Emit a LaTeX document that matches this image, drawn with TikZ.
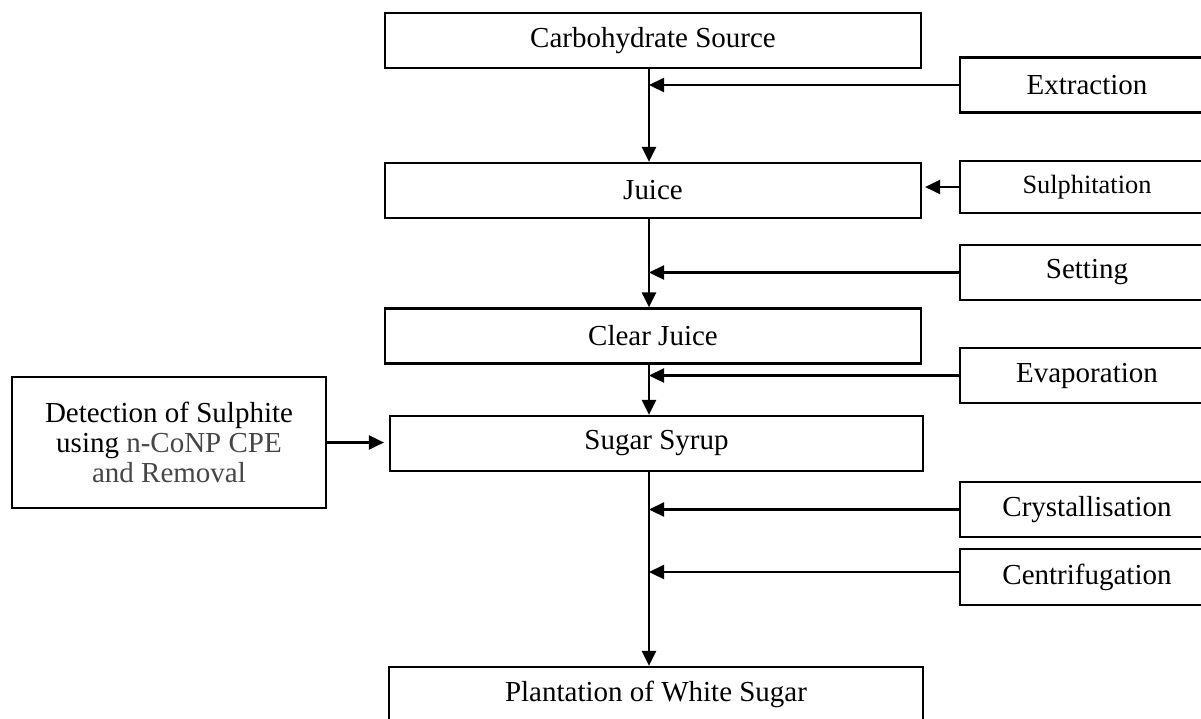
\documentclass[tikz,border=0pt]{standalone}
\usepackage{fontspec}
\setmainfont{Liberation Serif}
\usepackage{xcolor}
\usetikzlibrary{shapes, arrows, calc, positioning}
\usetikzlibrary{arrows.meta}

\definecolor{greytext}{RGB}{70,70,70}
\newcommand{\flowfont}{\fontsize{16.5}{20}\selectfont}

\begin{document}
\begin{tikzpicture}[
  x=0.02cm, y=-0.02cm,
  every node/.style={font=\flowfont, align=center},
  stage/.style={rectangle, draw, line width=1.3pt, inner sep=0pt, minimum width=10.72cm, minimum height=1.1cm},
  process/.style={rectangle, draw, line width=1.3pt, inner sep=0pt, minimum width=5.08cm, minimum height=1.1cm},
  flow/.style={draw, line width=1.3pt, -{Triangle[length=3mm, width=2.8mm]}}
]
\useasboundingbox (0,0) rectangle (1201,718);

% main stages
\node[stage] (src) at (653,40.5) {Carbohydrate Source};
\node[stage] (juice) at (653,190.5) {Juice};
\node[stage] (clear) at (653,336) {Clear Juice};
\node[stage, minimum width=10.66cm] (syrup) at (656.5,443.5) {Sugar Syrup};
\node[stage, minimum width=10.68cm] (white) at (656,694.5) {Plantation of White Sugar};

% side processes
\node[process] (extr) at (1087,85) {Extraction};
\node[process, minimum height=1.04cm, font=\fontsize{15}{18}\selectfont] (sulph) at (1087,187) {Sulphitation};
\node[process] (sett) at (1087,272.5) {Setting};
\node[process] (evap) at (1087,375.5) {Evaporation};
\node[process] (cryst) at (1087,509.5) {Crystallisation};
\node[process, minimum height=1.12cm] (centr) at (1087,577) {Centrifugation};

\node[rectangle, draw, line width=1.3pt, minimum width=6.28cm, minimum height=2.62cm,
  font=\fontsize{16.5}{17}\selectfont] (detect) at (169,442.5)
  {Detection of Sulphite\\ using {\color{greytext}n-CoNP CPE}\\ {\color{greytext}and Removal}};

\coordinate (spine) at (649,0);

% main flow
\draw[flow] (src.south -| spine) -- (juice.north -| spine);
\draw[flow] (juice.south -| spine) -- (clear.north -| spine);
\draw[flow] (clear.south -| spine) -- (syrup.north -| spine);
\draw[flow] (syrup.south -| spine) -- (white.north -| spine);

% inputs
\draw[flow] (extr.west) -- (extr.west -| spine);
\draw[flow] (sulph.west) -- ([xshift=0.06cm]juice.east |- sulph.west);
\draw[flow] (sett.west) -- (sett.west -| spine);
\draw[flow] (evap.west) -- (evap.west -| spine);
\draw[flow] (cryst.west) -- (cryst.west -| spine);
\draw[flow] ([yshift=0.1cm]centr.west) -- ([yshift=0.1cm]centr.west -| spine);
\draw[flow] (detect.east) -- ([xshift=-0.1cm]syrup.west |- detect.east);

\end{tikzpicture}
\end{document}
